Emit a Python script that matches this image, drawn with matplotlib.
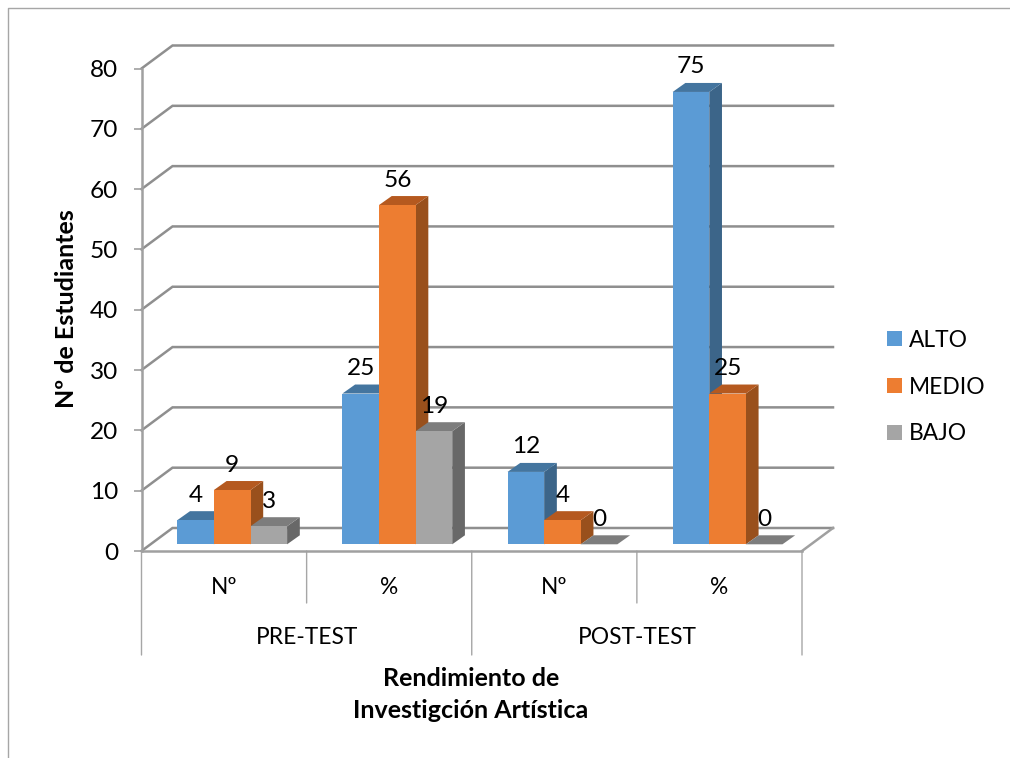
import matplotlib
matplotlib.use('Agg')
import matplotlib.pyplot as plt
from matplotlib.lines import Line2D
from matplotlib.patches import Patch, Polygon

# datos
categorias = ['Nº', '%', 'Nº', '%']
grupos = ['PRE-TEST', 'POST-TEST']
alto = [4, 25, 12, 75]
medio = [9, 56.25, 4, 25]
bajo = [3, 18.75, 0, 0]
series = ['ALTO', 'MEDIO', 'BAJO']
y_ticks = [0, 10, 20, 30, 40, 50, 60, 70, 80]

# colores: frente, tapa, lado
colores = [('#5b9bd5', '#44759f', '#3c6589'),
           ('#ed7d31', '#b5591f', '#99501c'),
           ('#a5a5a5', '#7d7d7d', '#686868')]

W, H = 1010, 758
AX_L, AX_R, AX_TOP, AX_BOT = 141.5, 802, 68.5, 551
plt.rcParams['font.family'] = ['Lato', 'DejaVu Sans']
TXT = 16.4
NUM = 17.6
BOLD = 18

fig = plt.figure(figsize=(W / 100, H / 100), dpi=100)
ax = fig.add_axes([AX_L / W, 1 - AX_BOT / H, (AX_R - AX_L) / W, (AX_BOT - AX_TOP) / H])
ax.set_xlim(0, 4)
ax.set_ylim(0, 80)

# pixeles por unidad, para pasar la profundidad 3D a datos
sx = (AX_R - AX_L) / 4
sy = (AX_BOT - AX_TOP) / 80
fondo_x, fondo_y = 31 / sx, 23 / sy
prof_x, prof_y = 12.7 / sx, 9 / sy
base = 6.7 / sy
margen = 35.8 / sx
ancho = 36.6 / sx

gris = '#a0a0a0'
gris_linea = '#8f8f8f'

# paredes: lineas del fondo y diagonales
for t in y_ticks:
    ax.plot([0, fondo_x, 4 + fondo_x], [t, t + fondo_y, t + fondo_y], color=gris_linea, lw=1.8,
            clip_on=False, zorder=1, solid_joinstyle='miter')
ax.plot([4, 4 + fondo_x], [0, fondo_y], color=gris, lw=1.8, clip_on=False, zorder=1)

valores = [alto, medio, bajo]
z = 3
for i, vals in enumerate(valores):
    frente, tapa, lado = colores[i]
    for j, v in enumerate(vals):
        x0 = j + margen + i * ancho
        x1 = x0 + ancho
        y0 = base
        y1 = base + v
        ax.add_patch(Polygon([(x1, y0), (x1 + prof_x, y0 + prof_y), (x1 + prof_x, y1 + prof_y), (x1, y1)],
                             fc=lado, ec='none', clip_on=False, zorder=z))
        ax.add_patch(Polygon([(x0, y1), (x0 + prof_x, y1 + prof_y), (x1 + prof_x, y1 + prof_y), (x1, y1)],
                             fc=tapa, ec='none', clip_on=False, zorder=z))
        ax.add_patch(Polygon([(x0, y0), (x1, y0), (x1, y1), (x0, y1)],
                             fc=frente, ec='none', clip_on=False, zorder=z))
        # la etiqueta va redondeada (56.25 -> 56)
        ax.annotate('{:.0f}'.format(v), (x0 + ancho / 2, y1), xytext=(0, 25), textcoords='offset pixels',
                    ha='center', va='center', fontsize=NUM, color='black', zorder=20, annotation_clip=False)
    z += 1

# ejes
for s in ['top', 'right']:
    ax.spines[s].set_visible(False)
ax.spines['left'].set_color(gris)
ax.spines['left'].set_linewidth(1.8)
ax.spines['bottom'].set_color(gris)
ax.spines['bottom'].set_linewidth(1.8)
ax.spines['bottom'].set_zorder(10)
ax.patch.set_alpha(0)
ax.set_yticks(y_ticks)
ax.tick_params(axis='y', length=6, width=1.2, color=gris, pad=11, labelsize=NUM)
ax.set_xticks([0.5, 1.5, 2.5, 3.5])
ax.set_xticklabels(categorias, fontsize=TXT)
ax.tick_params(axis='x', length=0, pad=18.5)

# separadores del eje de categorias
for x in [0, 1, 2, 3, 4]:
    largo = 104 if x % 2 == 0 else 52
    ax.annotate('', (x, 0), xytext=(x, -largo / sy), xycoords='data', textcoords='data',
                arrowprops=dict(arrowstyle='-', color='#a6a6a6', lw=1, shrinkA=0, shrinkB=0))
for k, g in enumerate(grupos):
    ax.annotate(g, (1 + 2 * k, 0), xytext=(0, -87), textcoords='offset pixels',
                ha='center', va='center', fontsize=TXT, annotation_clip=False)

fig.text(66 / W, 1 - 309 / H, 'Nº de Estudiantes', rotation=90, ha='center', va='center',
         fontsize=BOLD, fontweight='bold')
fig.text(471 / W, 1 - 694.5 / H, 'Rendimiento de\nInvestigción Artística', ha='center', va='center',
         fontsize=BOLD, fontweight='bold', linespacing=1.5)

handles = [Patch(fc=c[0], ec='none') for c in colores]
fig.legend(handles, series, loc='center left', bbox_to_anchor=(887 / W, 1 - 387 / H), frameon=False,
           fontsize=TXT, handlelength=0.66, handleheight=0.66, handletextpad=0.3, labelspacing=1.14,
           borderpad=0, borderaxespad=0)

# borde del grafico, solo arriba e izquierda
fig.add_artist(Line2D([8 / W, 8 / W, 1], [0, 1 - 8 / H, 1 - 8 / H], color='#a6a6a6', lw=1))

fig.savefig('out.png', dpi=100)
